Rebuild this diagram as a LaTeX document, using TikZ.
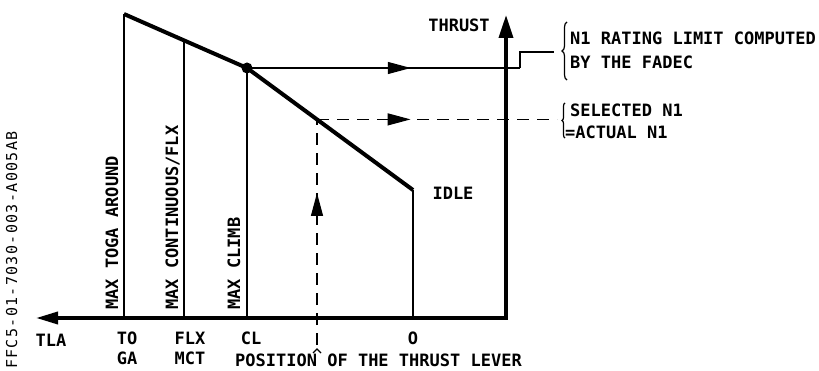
\documentclass[tikz,border=0pt]{standalone}
\usepackage{fontspec}
\setmonofont{DejaVu Sans Mono}
\newfontfamily\codefont[LetterSpace=9]{DejaVu Sans Mono}
\usetikzlibrary{arrows.meta,decorations.pathreplacing,decorations.markings}

\tikzset{
  lbl/.style={inner sep=0pt},
  vlbl/.style={inner sep=0pt, rotate=90, anchor=base west},
  thinline/.style={line width=1.2pt},
  rating/.style={line width=4pt, line join=round},
  axisline/.style={line width=3.6pt, line join=miter},
  dashline/.style={line width=1.2pt, dash pattern=on 12pt off 8pt},
  midtip/.style={postaction={decorate}, decoration={markings,
      mark=at position #1 with {\arrow{Triangle[length=23pt,width=12pt]}}}},
}

\begin{document}
\begin{tikzpicture}[x=1pt, y=-1pt, font=\ttfamily\bfseries\fontsize{17}{19}\selectfont]
  \useasboundingbox (0,0) rectangle (819,371);
  % axes
  \coordinate (tla) at (36,318);
  \coordinate (corner) at (506,318);
  \coordinate (thrust) at (506,15);
  \draw[axisline, {Triangle[length=22pt,width=12pt]}-{Triangle[length=23pt,width=14pt]}]
    (tla) -- (corner) -- (thrust);
  % rating curve
  \coordinate (toga) at (124,14);
  \coordinate (flx) at (184,40.4);
  \coordinate (cl) at (247,68);
  \coordinate (sel) at (317,119.4);
  \coordinate (idle) at (413,190);
  \draw[rating] (toga) -- (flx) -- (cl) -- (idle);
  % lever positions
  \coordinate (togab) at (124,318);
  \coordinate (flxb) at (184,318);
  \coordinate (clb) at (247,318);
  \coordinate (idleb) at (413,318);
  \draw[thinline] (toga) -- (togab);
  \draw[thinline] (flx) -- (flxb);
  \draw[thinline] (cl) -- (clb);
  \draw[thinline] (idle) -- (idleb);
  \fill (cl) circle (5.5pt);
  % N1 rating limit
  \coordinate (step1) at (520,68);
  \coordinate (step2) at (520,52);
  \coordinate (limit) at (554,52);
  \draw[thinline, midtip=0.6] (cl) -- (step1);
  \draw[thinline] (step1) -- (step2) -- (limit);
  % selected N1
  \coordinate (lever) at (317,345);
  \coordinate (actual) at (557,119.4);
  \draw[dashline, midtip=0.39] (sel) -- (actual);
  \draw[dashline, midtip=0.674] (lever) -- (sel);
  \draw[thinline] (313,353) -- (317,349) -- (321,353);
  % braces
  \draw[thinline, decorate, decoration={brace, amplitude=5pt}] (567,80) -- (567,22);
  \draw[thinline, decorate, decoration={brace, amplitude=3pt}] (565,138) -- (565,103);
  % labels
  \node[lbl] (thrustl) at (459,25.5) {THRUST};
  \node[lbl] (idlel) at (453,193) {IDLE};
  \node[lbl, anchor=west] (rate1) at (570,38) {N1 RATING LIMIT COMPUTED};
  \node[lbl, anchor=west] (rate2) at (570,62) {BY THE FADEC};
  \node[lbl, anchor=west] (sel1) at (570,110) {SELECTED N1};
  \node[lbl, anchor=west] (sel2) at (565,132) {=ACTUAL N1};
  \node[vlbl] (maxtoga) at (118,310) {MAX TOGA AROUND};
  \node[vlbl] (maxmct) at (178,310) {MAX CONTINUOUS/FLX};
  \node[vlbl] (maxcl) at (240,310) {MAX CLIMB};
  \node[lbl] (tlal) at (51,340) {TLA};
  \node[lbl] (to) at (127,338) {TO};
  \node[lbl] (ga) at (127,358) {GA};
  \node[lbl] (flxl) at (190,338) {FLX};
  \node[lbl] (mct) at (190,358) {MCT};
  \node[lbl] (cll) at (251,338) {CL};
  \node[lbl] (zero) at (413,338) {O};
  \node[lbl] (position) at (378.5,360) {POSITION OF THE THRUST LEVER};
  \node[vlbl, font=\codefont\fontsize{15}{17}\selectfont] (ref) at (17,369) {FFC5-01-7030-003-A005AB};
\end{tikzpicture}
\end{document}
